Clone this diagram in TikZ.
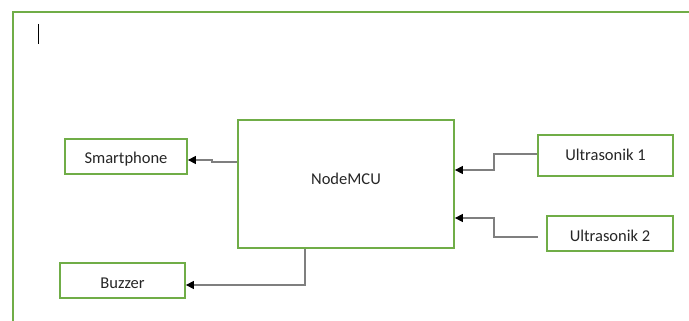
\documentclass[tikz,border=0pt]{standalone}
\usepackage{fontspec}
\setmainfont{Carlito}
\usetikzlibrary{arrows.meta}
\definecolor{boxgreen}{HTML}{70AD47}
\definecolor{linegray}{HTML}{7F7F7F}
\begin{document}
\begin{tikzpicture}[x=1pt,y=-1pt,
  blk/.style={draw=boxgreen,line width=1.8pt,inner sep=0pt,font=\fontsize{16.5}{18}\selectfont,text=black!85,text height=14pt,text depth=0pt},
  conn/.style={draw=linegray,line width=1.2pt,-{Triangle[length=8pt,width=8pt,color=black]}}]
\useasboundingbox (0,0) rectangle (689,321);
\draw[boxgreen,line width=1.8pt] (13,330) -- (13,12) -- (700,12);
\draw[black,line width=1pt] (38,24) -- (38,44);
\node[blk,minimum width=122pt,minimum height=35pt] (sp) at (126,156.5) {Smartphone};
\node[blk,minimum width=125pt,minimum height=35pt,text height=15.5pt] (bz) at (122.5,280.5) {Buzzer};
\node[blk,minimum width=216pt,minimum height=128pt] (mcu) at (346,184) {};
\node[font=\fontsize{16.5}{18}\selectfont,text=black!85] (mcutxt) at (346,179) {NodeMCU};
\node[blk,minimum width=135pt,minimum height=41pt,text height=10pt,text depth=0.4pt] (u1) at (605.5,155.5) {Ultrasonik 1};
\node[blk,minimum width=126pt,minimum height=35pt,text height=15.5pt] (u2) at (610,233.5) {Ultrasonik 2};
\coordinate (c1) at (212,162);
\coordinate (c2) at (212,160);
\draw[conn] (mcu.west |- c1) -- (c1) -- (c2) -- (sp.east |- c2);
\coordinate (b1) at (305,285);
\draw[conn] (mcu.south -| b1) -- (b1) -- (bz.east |- b1);
\coordinate (d1) at (494,154);
\coordinate (d2) at (494,170);
\draw[conn] (u1.west |- d1) -- (d1) -- (d2) -- (mcu.east |- d2);
\coordinate (e0) at (538,237);
\coordinate (e1) at (494,237);
\coordinate (e2) at (494,218);
\draw[conn] (e0) -- (e1) -- (e2) -- (mcu.east |- e2);
\end{tikzpicture}
\end{document}
